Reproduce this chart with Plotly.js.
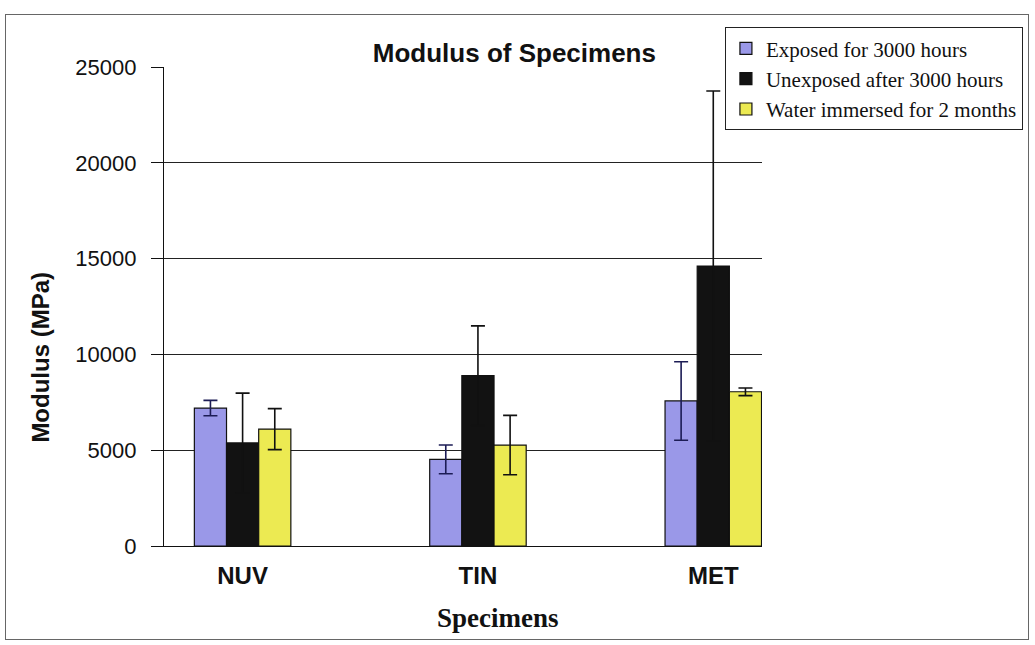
<!DOCTYPE html>
<html>
<head>
<meta charset="utf-8">
<script src="https://cdn.plot.ly/plotly-3.0.1.min.js"></script>
<style>
  html, body { margin: 0; padding: 0; background: #fff; }
  #wrap { position: relative; width: 1035px; height: 645px; }
  #chart { width: 1035px; height: 645px; }
  #frame { position: absolute; left: 5px; top: 14px; width: 1024px; height: 626px;
           border: 1px solid #666; pointer-events: none; box-sizing: border-box; }
</style>
</head>
<body>
<div id="wrap">
  <div id="chart"></div>
  <div id="frame"></div>
</div>
<script>
const categories = ['NUV', 'TIN', 'MET'];
const seriesNames = ['Exposed for 3000 hours', 'Unexposed after 3000 hours', 'Water immersed for 2 months'];
const exposed = [7200, 4520, 7570];
const exposedErr = [400, 750, 2050];
const unexposed = [5380, 8890, 14610];
const unexposedErr = [2600, 2600, 9140];
const water = [6100, 5270, 8050];
const waterErr = [1070, 1550, 200];
const yTicks = [0, 5000, 10000, 15000, 20000, 25000];

const colors = ['#9a98e8', '#121212', '#ecea52'];
const errColors = ['#1c1c55', '#111111', '#111111'];

function mk(name, vals, errs, i) {
  return {
    type: 'bar', name: name, x: categories, y: vals,
    marker: { color: colors[i], line: { color: '#111', width: 1.2 } },
    error_y: { type: 'data', array: errs, visible: true, color: errColors[i], thickness: 1.6, width: 7 }
  };
}

const data = [
  mk(seriesNames[0], exposed, exposedErr, 0),
  mk(seriesNames[1], unexposed, unexposedErr, 1),
  mk(seriesNames[2], water, waterErr, 2)
];

const layout = {
  width: 1035, height: 645,
  margin: { l: 164, r: 270, t: 67, b: 99 },
  paper_bgcolor: '#fff', plot_bgcolor: '#fff',
  barmode: 'group', bargap: 0.59, bargroupgap: 0,
  showlegend: true,
  title: {
    text: '<b>Modulus of Specimens</b>',
    font: { family: 'Liberation Sans, Arial, sans-serif', size: 26, color: '#111' },
    x: 0.497, xanchor: 'center', y: 0.918, yanchor: 'middle'
  },
  xaxis: {
    type: 'category', range: [-0.334, 2.207],
    showline: true, linecolor: '#111', linewidth: 1.2,
    ticks: '', showgrid: false, ticklabelstandoff: 8,
    tickfont: { family: 'Liberation Sans, Arial, sans-serif', size: 24, color: '#111', weight: 'bold' }
  },
  yaxis: {
    range: [0, 25000], tickvals: yTicks, ticktext: yTicks.map(String),
    showline: true, linecolor: '#111', linewidth: 1.2,
    ticks: 'outside', ticklen: 12, tickcolor: '#111', ticklabelstandoff: 10,
    showgrid: true, gridcolor: '#222', gridwidth: 1,
    zeroline: false,
    tickfont: { family: 'Liberation Sans, Arial, sans-serif', size: 22, color: '#111' }
  },
  annotations: [
    {
      text: '<b>Modulus (MPa)</b>', textangle: -90, showarrow: false,
      xref: 'paper', yref: 'paper', x: -0.2063, y: 0.3946, xanchor: 'center', yanchor: 'middle',
      font: { family: 'Liberation Sans, Arial, sans-serif', size: 24, color: '#111' }
    },
    {
      text: '<b>Specimens</b>', showarrow: false,
      xref: 'paper', yref: 'paper', x: 0.559, y: -0.150, xanchor: 'center', yanchor: 'middle',
      font: { family: 'Liberation Serif, Times New Roman, serif', size: 27, color: '#111' }
    }
  ],
  legend: {
    x: 0.938, xanchor: 'left', y: 1.083, yanchor: 'top',
    bgcolor: '#fff', bordercolor: '#222', borderwidth: 1,
    font: { family: 'Liberation Serif, Times New Roman, serif', size: 21, color: '#111' },
    tracegroupgap: 4
  }
};

Plotly.newPlot('chart', data, layout, { displayModeBar: false, staticPlot: true });
</script>
</body>
</html>
